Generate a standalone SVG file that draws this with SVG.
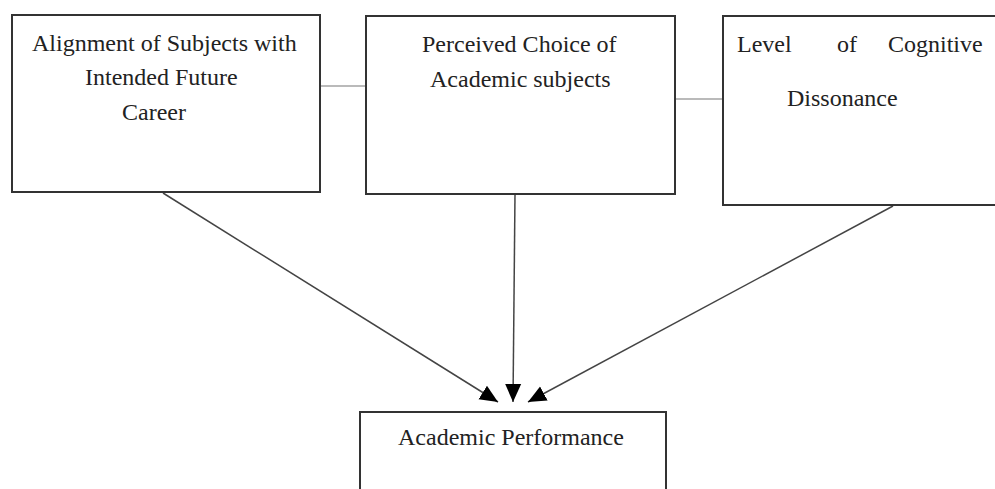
<svg xmlns="http://www.w3.org/2000/svg" width="995" height="489" viewBox="0 0 995 489">
<style>
.box{fill:#fff;stroke:#333;stroke-width:2}
.t{font-family:"Liberation Serif","Times New Roman",serif;font-size:24px;fill:#222}
.c{stroke:#444;stroke-width:1.5;fill:none}
.h{stroke:#777;stroke-width:1.2;fill:none}
</style>
<defs>
<marker id="ah" markerUnits="userSpaceOnUse" markerWidth="20" markerHeight="20" viewBox="0 0 20 20" refX="18" refY="10" orient="auto">
<path d="M0,2 L18,10 L0,18 Z" fill="#000"/>
</marker>
</defs>
<rect width="995" height="489" fill="#fff"/>
<g id="connectors">
<line class="h" x1="320" y1="86" x2="366" y2="86"/>
<line class="h" x1="675" y1="99" x2="723" y2="99"/>
<line class="c" x1="163" y1="193" x2="498" y2="402" marker-end="url(#ah)"/>
<line class="c" x1="515" y1="194" x2="513" y2="402" marker-end="url(#ah)"/>
<line class="c" x1="893" y1="206" x2="528" y2="402" marker-end="url(#ah)"/>
</g>
<g id="node-alignment">
<rect class="box" x="12" y="15" width="308" height="177"/>
<text class="t" x="32" y="51">Alignment of Subjects with</text>
<text class="t" x="85" y="85">Intended Future</text>
<text class="t" x="122" y="120">Career</text>
</g>
<g id="node-choice">
<rect class="box" x="366" y="16" width="309" height="178"/>
<text class="t" x="422" y="52">Perceived Choice of</text>
<text class="t" x="430" y="87">Academic subjects</text>
</g>
<g id="node-dissonance">
<rect class="box" x="723" y="16" width="280" height="189"/>
<text class="t" y="52"><tspan x="737">Level</tspan><tspan x="837">of</tspan><tspan x="888">Cognitive</tspan></text>
<text class="t" x="787" y="106">Dissonance</text>
</g>
<g id="node-performance">
<rect class="box" x="360" y="412" width="306" height="90"/>
<text class="t" x="398" y="445">Academic Performance</text>
</g>
</svg>
